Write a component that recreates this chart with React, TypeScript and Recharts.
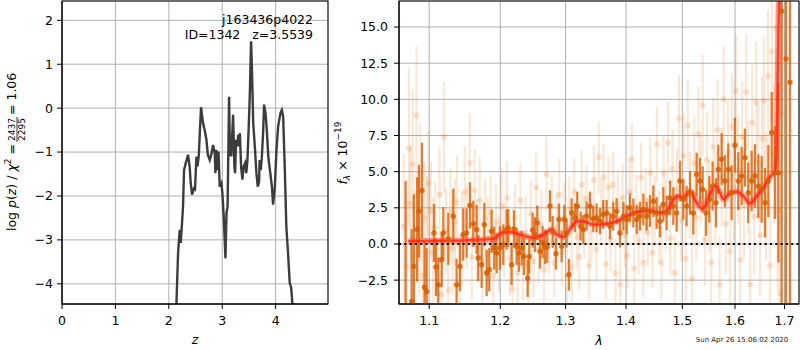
import React from "react";
import {
  LineChart,
  Line,
  XAxis,
  YAxis,
  CartesianGrid,
  ComposedChart,
  Scatter,
  ErrorBar,
  ReferenceLine,
} from "recharts";

// ---------- Left panel: log p(z) ----------
const pzTicksX = [0, 1, 2, 3, 4];
const pzTicksY = [-4, -3, -2, -1, 0, 1, 2];
const pzCurve: [number, number][] = [
  [2.13, -6.0], [2.142, -4.46], [2.173, -3.3], [2.204, -2.77], [2.223, -3.07], [2.24, -2.75],
  [2.266, -2.24], [2.285, -1.41], [2.317, -1.25], [2.36, -1.06], [2.39, -1.33], [2.41, -1.71],
  [2.435, -1.97], [2.47, -1.83], [2.49, -1.85], [2.517, -1.1], [2.535, -1.33], [2.56, -1.1],
  [2.58, -0.57], [2.603, 0.02], [2.64, -0.34], [2.67, -0.49], [2.704, -0.72], [2.73, -1.06],
  [2.766, -1.18], [2.8, -1.03], [2.828, -0.84], [2.86, -1.03], [2.873, -1.48], [2.89, -0.95],
  [2.91, -1.41], [2.93, -0.99], [2.953, -1.79], [2.985, -1.71], [3.003, -1.94], [3.028, -2.47],
  [3.06, -3.42], [3.08, -2.39], [3.1, -2.24], [3.128, 0.26], [3.145, -1.1], [3.158, -0.8],
  [3.17, -1.1], [3.203, -0.15], [3.228, -1.33], [3.24, -1.48], [3.26, -0.72], [3.28, -0.87],
  [3.3, -0.61], [3.316, -0.87], [3.33, -0.57], [3.353, -1.33], [3.378, -1.63], [3.4, -1.33],
  [3.428, -1.25], [3.45, -1.48], [3.47, -1.22], [3.496, -0.42], [3.515, 0.26], [3.54, 1.52],
  [3.558, 0.8], [3.58, -0.34], [3.61, -0.87], [3.64, -1.48], [3.665, -1.79], [3.69, -1.67],
  [3.7, -1.18], [3.72, -1.41], [3.74, -1.15], [3.765, -0.57], [3.783, 0.08], [3.81, -0.11],
  [3.83, -0.42], [3.865, -1.14], [3.9, -1.48], [3.93, -1.79], [3.952, -2.2], [3.985, -1.79],
  [4.015, -0.95], [4.046, -0.42], [4.09, -0.11], [4.115, -0.04], [4.14, -0.19], [4.17, -1.33],
  [4.2, -2.7], [4.232, -3.3], [4.264, -3.99], [4.29, -4.08], [4.314, -4.46], [4.33, -6.0],
];

// ---------- Right panel: spectrum ----------
const specTicksX = [1.1, 1.2, 1.3, 1.4, 1.5, 1.6, 1.7];
const specTicksY = [-2.5, 0, 2.5, 5, 7.5, 10, 12.5, 15];

// faint (individual exposures): [lambda, flux, err]
const faintPoints: [number, number, number][] = [
  [1.066, 1.2, 5.0], [1.07, -1.6, 4.6], [1.073, 6.6, 5.5], [1.075, 2.8, 4.0], [1.078, 5.5, 5.2],
  [1.08, -0.8, 4.5], [1.083, 8.9, 4.8], [1.086, 0.5, 4.2], [1.088, 3.6, 4.8], [1.091, -2.2, 4.0],
  [1.094, 1.8, 3.9], [1.097, 0.2, 4.5], [1.099, 4.2, 3.6],
  [1.102, 2.3, 3.4], [1.105, -0.6, 3.8], [1.108, 1.1, 3.2], [1.111, -3.4, 3.5], [1.114, 3.4, 3.3],
  [1.117, -3.5, 3.6], [1.12, 7.4, 3.8], [1.123, 0.9, 3.0], [1.126, -3.2, 3.4], [1.129, 2.2, 3.1],
  [1.132, -0.3, 3.3], [1.135, 1.5, 3.0], [1.138, 2.9, 3.2], [1.142, -2.7, 3.1], [1.145, 0.6, 3.0],
  [1.149, 3.6, 3.2], [1.152, 1.2, 2.9], [1.156, 5.6, 3.4], [1.159, -0.9, 3.0], [1.163, 3.7, 2.8],
  [1.166, 0.2, 2.9], [1.17, 3.0, 3.0], [1.174, -1.2, 2.8], [1.178, 1.8, 2.7], [1.182, 0.4, 2.9],
  [1.186, 2.2, 2.6], [1.19, -2.2, 2.8], [1.194, 1.5, 2.7], [1.198, -0.7, 2.6],
  [1.202, 2.6, 2.7], [1.206, 0.3, 2.6], [1.21, 3.2, 2.5], [1.214, -1.0, 2.6], [1.218, -3.1, 2.7],
  [1.222, 1.8, 2.4], [1.226, -2.0, 2.5], [1.23, 3.0, 2.6], [1.234, -1.5, 2.4], [1.238, 0.8, 2.5],
  [1.242, -2.6, 2.4], [1.246, 2.1, 2.3], [1.25, -1.2, 2.5], [1.254, 3.9, 2.4], [1.258, -0.4, 2.3],
  [1.262, 1.3, 2.4], [1.266, -1.8, 2.4], [1.27, 4.8, 2.6], [1.274, 0.2, 2.3], [1.278, 2.6, 2.2],
  [1.282, -1.3, 2.4], [1.286, 1.2, 2.3], [1.29, 3.4, 2.5], [1.294, -0.6, 2.3], [1.298, 1.9, 2.4],
  [1.302, -2.2, 2.4], [1.306, 2.4, 2.3], [1.31, -1.6, 2.4], [1.314, 3.6, 2.3], [1.318, 0.5, 2.2],
  [1.322, -0.9, 2.3], [1.326, 4.1, 2.4], [1.33, 1.2, 2.2], [1.334, 3.1, 2.3], [1.338, -1.5, 2.3],
  [1.342, 0.9, 2.2], [1.346, 4.4, 2.4], [1.35, -0.4, 2.2], [1.354, 6.0, 2.5], [1.358, 2.2, 2.3],
  [1.362, 4.6, 2.3], [1.366, -1.4, 2.4], [1.37, 3.9, 2.2], [1.374, 0.3, 2.3], [1.378, 4.1, 2.3],
  [1.382, -2.0, 2.4], [1.386, 2.8, 2.2], [1.39, -2.8, 2.5], [1.394, 3.2, 2.3], [1.398, 0.6, 2.2],
  [1.402, -0.8, 2.3], [1.406, 3.6, 2.3], [1.41, 5.9, 2.5], [1.414, -1.7, 2.4], [1.418, 2.6, 2.2],
  [1.422, 0.2, 2.3], [1.426, 4.6, 2.4], [1.43, -1.3, 2.4], [1.434, 3.0, 2.3], [1.438, 0.8, 2.4],
  [1.442, 4.9, 2.5], [1.446, -0.6, 2.4], [1.45, 2.4, 2.3], [1.454, 6.9, 2.6], [1.458, 1.2, 2.5],
  [1.462, -1.3, 2.5], [1.466, 4.9, 2.6], [1.47, 2.0, 2.5], [1.474, 7.0, 2.8], [1.478, 0.4, 2.6],
  [1.482, 5.2, 2.7], [1.486, -2.0, 2.7], [1.49, 3.8, 2.8], [1.494, 8.7, 3.0], [1.498, 1.6, 2.8],
  [1.502, 6.1, 3.0], [1.506, -1.0, 3.0], [1.51, 8.2, 3.2], [1.514, 3.4, 3.0], [1.518, -2.4, 3.1],
  [1.522, 5.6, 3.2], [1.526, 1.8, 3.0], [1.53, 7.6, 3.3], [1.534, 4.4, 3.1], [1.538, 9.6, 3.5],
  [1.542, 0.3, 3.2], [1.546, 5.8, 3.3], [1.55, 2.6, 3.2], [1.554, -1.3, 3.3], [1.558, 6.7, 3.4],
  [1.562, 3.2, 3.3], [1.566, 7.9, 3.5], [1.57, -2.8, 3.4], [1.574, 4.6, 3.4], [1.578, 10.0, 3.7],
  [1.582, 1.4, 3.5], [1.586, 6.3, 3.6], [1.59, -0.5, 3.6], [1.594, 8.1, 3.7], [1.598, 3.9, 3.6],
  [1.602, 10.6, 3.9], [1.606, 5.1, 3.7], [1.61, -1.1, 3.8], [1.614, 7.4, 3.8], [1.618, 2.7, 3.8],
  [1.622, 10.5, 4.0], [1.626, 4.6, 3.9], [1.63, -2.8, 4.0], [1.634, 8.4, 4.0], [1.638, 1.9, 4.0],
  [1.642, 9.8, 4.2], [1.646, 5.6, 4.1], [1.65, 0.6, 4.2], [1.654, 7.3, 4.3], [1.658, 9.9, 4.4],
  [1.662, 3.3, 4.4], [1.666, 11.6, 4.6], [1.67, -1.5, 4.6], [1.674, 13.3, 4.8], [1.678, 6.2, 4.8],
  [1.682, 14.9, 5.0], [1.686, 2.3, 5.5], [1.69, -3.4, 6.0], [1.694, 9.0, 8.0],
];

// combined spectrum: [lambda, flux, err]
const combinedPoints: [number, number, number][] = [
  [1.0686, -6.5, 10.85], [1.0765, -3.98, 5.0], [1.0795, -1.55, 5.0], [1.0838, 1.0, 3.6],
  [1.0863, 2.27, 3.2], [1.0903, 3.7, 3.3], [1.0937, -2.99, 3.2], [1.0965, -3.29, 3.0],
  [1.1064, 0.76, 2.0], [1.1091, -1.6, 2.0], [1.1123, -2.82, 1.9], [1.1169, -1.09, 1.9],
  [1.1192, 0.76, 1.8], [1.126, 0.35, 1.8], [1.1329, 1.92, 1.9], [1.1375, -2.82, 1.8],
  [1.1422, -1.55, 1.7], [1.1468, 0.65, 1.8], [1.1515, 0.76, 1.7], [1.1563, 2.66, 1.6],
  [1.161, 1.39, 1.6], [1.1658, 1.0, 1.7], [1.1681, -0.97, 1.6], [1.1729, -1.44, 1.6],
  [1.1768, 1.34, 1.5], [1.1802, -2.01, 1.6], [1.184, -1.78, 1.5], [1.1874, 0.88, 1.5],
  [1.1913, -0.28, 1.5], [1.1947, -0.63, 1.4], [1.1996, -0.28, 1.5], [1.2045, -0.05, 1.4],
  [1.2095, 1.0, 1.4], [1.2119, 1.11, 1.3], [1.2168, -1.44, 1.4], [1.2203, 1.04, 1.3],
  [1.2243, -0.16, 1.3], [1.2278, -0.63, 1.3], [1.2318, -0.28, 1.2], [1.2354, -0.86, 1.3],
  [1.241, -2.36, 1.3], [1.2435, -0.86, 1.2], [1.2486, 0.95, 1.2], [1.2522, 0.65, 1.2],
  [1.2558, 1.46, 1.2], [1.2599, -0.51, 1.2], [1.264, 0.12, 1.1], [1.2675, -0.21, 1.2],
  [1.2711, -0.21, 1.1], [1.2754, 2.62, 1.1], [1.2796, 0.83, 1.1], [1.2848, -0.67, 1.1],
  [1.2895, 1.69, 1.1], [1.2938, -0.16, 1.1], [1.298, 1.69, 1.0], [1.3017, 0.76, 1.0],
  [1.3054, -2.13, 1.1], [1.3097, 2.15, 1.0], [1.3151, 1.81, 1.0], [1.3188, 2.62, 1.0],
  [1.3242, 1.23, 1.0], [1.3285, 1.0, 1.0], [1.334, 1.92, 1.0], [1.3395, 2.62, 1.0],
  [1.3449, 1.74, 0.9], [1.3504, 1.81, 1.0], [1.356, 1.57, 0.9], [1.3615, 2.04, 1.0],
  [1.3671, 2.15, 0.9], [1.3726, 1.23, 0.9], [1.3782, 1.92, 1.0], [1.3839, 2.27, 0.9],
  [1.3896, 0.76, 1.0], [1.3954, 1.92, 1.0], [1.4011, 1.69, 1.0], [1.4068, 2.5, 1.0],
  [1.4126, 2.15, 1.0], [1.4184, 1.69, 1.0], [1.4242, 1.92, 1.0], [1.43, 2.38, 1.1],
  [1.4358, 1.92, 1.0], [1.4417, 2.27, 1.1], [1.4476, 2.96, 1.1], [1.4535, 2.15, 1.1],
  [1.4595, 1.57, 1.1], [1.4654, 2.73, 1.2], [1.4714, 2.15, 1.2], [1.4775, 3.19, 1.2],
  [1.4835, 2.62, 1.3], [1.4896, 2.15, 1.3], [1.4956, 4.35, 1.4], [1.5018, 3.08, 1.4],
  [1.5079, 2.62, 1.4], [1.5141, 3.54, 1.5], [1.5203, 2.15, 1.5], [1.5265, 4.81, 1.5],
  [1.5328, 4.35, 1.6], [1.5378, 3.77, 1.6], [1.5441, 2.15, 1.6], [1.5504, 3.08, 1.6],
  [1.5567, 4.0, 1.7], [1.5631, 2.85, 1.7], [1.5676, 5.16, 1.7], [1.574, 5.86, 1.8],
  [1.5804, 4.35, 1.8], [1.5869, 5.16, 1.8], [1.5934, 3.54, 1.9], [1.5999, 6.83, 1.9],
  [1.6065, 4.35, 2.0], [1.613, 4.7, 2.0], [1.6196, 5.97, 2.0], [1.6262, 3.54, 2.1],
  [1.6329, 4.35, 2.1], [1.6396, 4.7, 2.2], [1.6464, 4.0, 2.2], [1.6531, 3.77, 2.3],
  [1.6599, 2.85, 2.4], [1.6667, 4.35, 2.5], [1.6736, 7.71, 2.8], [1.6804, 4.93, 3.2],
  [1.6873, 4.93, 6.2], [1.6941, 16.09, 22], [1.7031, 12.8, 25], [1.7115, 11.18, 25],
];

// best-fit model: [lambda, flux]
const modelCurve: [number, number][] = [
  [1.0721, 0.19], [1.101, 0.21], [1.1468, 0.25], [1.1898, 0.35], [1.1947, 0.49], [1.202, 0.76],
  [1.2095, 0.83], [1.2218, 0.76], [1.2344, 0.58], [1.2496, 0.42], [1.265, 0.65], [1.278, 1.0],
  [1.2859, 0.65], [1.2964, 0.49], [1.307, 1.0], [1.3177, 1.55], [1.3285, 1.57], [1.3449, 1.34],
  [1.3671, 1.39], [1.3839, 1.57], [1.4011, 1.92], [1.4184, 2.2], [1.4417, 2.31], [1.4595, 2.15],
  [1.4714, 2.27], [1.4835, 3.08], [1.4926, 3.31], [1.5018, 3.19], [1.5141, 3.66], [1.5265, 2.85],
  [1.5378, 2.43], [1.5517, 3.43], [1.5612, 4.05], [1.5708, 3.54], [1.5772, 3.08], [1.5901, 3.5],
  [1.6032, 3.61], [1.6163, 3.31], [1.6296, 2.8], [1.643, 3.31], [1.6565, 3.89], [1.6702, 4.65],
  [1.6804, 5.05], [1.6838, 6.78], [1.6852, 10.0], [1.6873, 14.65], [1.6894, 17.5],
];

const pzData = pzCurve.map(([z, logp]) => ({ z, logp }));
const faintData = faintPoints.map(([lam, f, err]) => ({ lam, f, err }));
const combinedData = combinedPoints.map(([lam, f, err]) => ({ lam, f, err }));
const modelData = modelCurve.map(([lam, f]) => ({ lam, f }));

const FONT = "'DejaVu Sans', 'Liberation Sans', sans-serif";
const FS = 12.5;
const minus = (s: string) => s.replace("-", "\u2212");
const fmtInt = (v: number) => minus(String(v));
const fmt1 = (v: number) => minus(v.toFixed(1));
const fmtLam = (v: number) => v.toFixed(1);
const tickStyle = { fill: "#000", fontSize: FS, fontFamily: FONT };

const faintShape = (p: any) => (
  <circle cx={p.cx} cy={p.cy} r={3} fill="#e8781e" fillOpacity={0.2} />
);
const combinedShape = (p: any) => (
  <circle cx={p.cx} cy={p.cy} r={2.7} fill="#d65f00" fillOpacity={0.85} />
);

const SPEC_W = 470;
const SPEC_H = 350;
const SPEC_MARGIN = { top: 1, right: 1, bottom: 16, left: 9 };
const LAM_DOMAIN: [number, number] = [1.06, 1.7305];
const FLUX_DOMAIN: [number, number] = [-4.15, 16.8];

export default function App() {
  return (
    <div style={{ position: "absolute", left: 0, top: 0, width: 800, height: 350, background: "#fff" }}>
      {/* Left panel */}
      <div style={{ position: "absolute", left: 0, top: 0 }}>
        <LineChart width={330} height={350} data={pzData} margin={{ top: 1, right: 2, bottom: 16, left: 0 }}>
          <CartesianGrid stroke="#b0b0b0" strokeWidth={1} />
          <XAxis
            dataKey="z"
            type="number"
            domain={[0, 4.98]}
            ticks={pzTicksX}
            allowDataOverflow
            height={30}
            tickSize={5}
            tickMargin={7}
            tick={tickStyle}
            stroke="#000"
            tickFormatter={fmtInt}
          />
          <YAxis
            type="number"
            domain={[-4.46, 2.44]}
            ticks={pzTicksY}
            allowDataOverflow
            width={62}
            tickSize={5}
            tickMargin={4}
            tick={tickStyle}
            stroke="#000"
            tickFormatter={fmtInt}
          />
          <Line
            dataKey="logp"
            type="linear"
            stroke="#3c3c3c"
            strokeWidth={2.4}
            dot={false}
            isAnimationActive={false}
          />
        </LineChart>
      </div>

      {/* Right panel: axes and grid */}
      <div style={{ position: "absolute", left: 330, top: 0 }}>
        <ComposedChart width={SPEC_W} height={SPEC_H} margin={SPEC_MARGIN}>
          <CartesianGrid stroke="#b0b0b0" strokeWidth={1} />
          <XAxis
            dataKey="lam"
            type="number"
            scale="log"
            domain={LAM_DOMAIN}
            ticks={specTicksX}
            allowDataOverflow
            height={30}
            tickSize={5}
            tickMargin={7}
            tick={tickStyle}
            stroke="#000"
            tickFormatter={fmtLam}
          />
          <YAxis
            type="number"
            domain={FLUX_DOMAIN}
            ticks={specTicksY}
            allowDataOverflow
            width={60}
            tickSize={5}
            tickMargin={6}
            tick={tickStyle}
            stroke="#000"
            tickFormatter={fmt1}
          />
        </ComposedChart>
      </div>

      {/* Right panel: data, clipped to the plot area */}
      <div
        style={{
          position: "absolute",
          left: 330,
          top: 0,
          clipPath: "inset(1px 1px 46px 69px)",
        }}
      >
        <ComposedChart width={SPEC_W} height={SPEC_H} margin={SPEC_MARGIN}>
          <XAxis
            dataKey="lam"
            type="number"
            scale="log"
            domain={LAM_DOMAIN}
            ticks={specTicksX}
            allowDataOverflow
            height={30}
            tick={false}
            tickLine={false}
            axisLine={false}
          />
          <YAxis
            type="number"
            domain={FLUX_DOMAIN}
            ticks={specTicksY}
            allowDataOverflow
            width={60}
            tick={false}
            tickLine={false}
            axisLine={false}
          />
          <Scatter data={faintData} dataKey="f" shape={faintShape} isAnimationActive={false}>
            <ErrorBar dataKey="err" direction="y" width={0} stroke="#e8781e" strokeOpacity={0.18} strokeWidth={2.2} />
          </Scatter>
          <Scatter data={combinedData} dataKey="f" shape={combinedShape} isAnimationActive={false}>
            <ErrorBar dataKey="err" direction="y" width={0} stroke="#d9620a" strokeOpacity={0.82} strokeWidth={2.3} />
          </Scatter>
          <Line
            data={modelData}
            dataKey="f"
            type="monotone"
            stroke="#ff4a3a"
            strokeOpacity={0.5}
            strokeWidth={6}
            dot={false}
            isAnimationActive={false}
          />
          <Line
            data={modelData}
            dataKey="f"
            type="monotone"
            stroke="#ff1f00"
            strokeOpacity={0.75}
            strokeWidth={2.4}
            dot={false}
            isAnimationActive={false}
          />
          <ReferenceLine y={0} stroke="#000" strokeWidth={2} strokeDasharray="2 3.3" />
        </ComposedChart>
      </div>

      {/* Frames and titles */}
      <svg
        width={800}
        height={350}
        style={{ position: "absolute", left: 0, top: 0, pointerEvents: "none" }}
        fontFamily={FONT}
      >
        <rect x={62} y={1} width={266} height={303} fill="none" stroke="#000" strokeWidth={1} />
        <rect x={399} y={1} width={400} height={303} fill="none" stroke="#000" strokeWidth={1} />
        <text x={313} y={24} textAnchor="end" fontSize={FS} fill="#000">
          j163436p4022
        </text>
        <text x={313} y={39} textAnchor="end" fontSize={FS} fill="#000" xmlSpace="preserve" style={{ whiteSpace: "pre" }}>
          {"ID=1342   z=3.5539"}
        </text>
        <g transform="translate(16,153) rotate(-90)" fontSize={FS} fill="#000">
          <text x={9} y={0} textAnchor="end">
            log <tspan fontStyle="italic">p</tspan>(<tspan fontStyle="italic">z</tspan>) / <tspan fontStyle="italic">χ</tspan>
            <tspan dy={-5} fontSize={9}>2</tspan>
            <tspan dy={5}> =</tspan>
          </text>
          <text x={23.5} y={-1} textAnchor="middle" fontSize={9}>2437</text>
          <line x1={11} x2={36} y1={1} y2={1} stroke="#000" strokeWidth={0.8} />
          <text x={23.5} y={8.5} textAnchor="middle" fontSize={9}>2295</text>
          <text x={38} y={0}>= 1.06</text>
        </g>
        <g transform="translate(347,153) rotate(-90)" fontSize={FS} fill="#000">
          <text x={0} y={0} textAnchor="middle">
            <tspan fontStyle="italic">f</tspan>
            <tspan dy={3} fontSize={9} fontStyle="italic">λ</tspan>
            <tspan dy={-3}> × 10</tspan>
            <tspan dy={-6} fontSize={9}>−19</tspan>
          </text>
        </g>
        <text x={195} y={344} textAnchor="middle" fontSize={FS} fontStyle="italic" fill="#000">
          z
        </text>
        <text x={599} y={345} textAnchor="middle" fontSize={FS} fontStyle="italic" fill="#000">
          λ
        </text>
        <text x={742} y={341.5} textAnchor="middle" fontSize={7} fill="#222">
          Sun Apr 26 15:06:02 2020
        </text>
      </svg>
    </div>
  );
}
